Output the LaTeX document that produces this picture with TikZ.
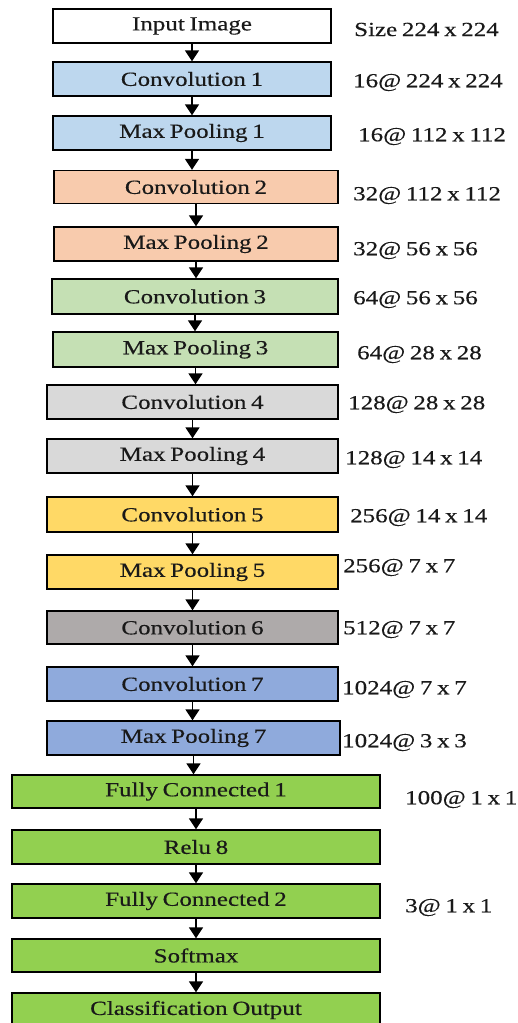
\documentclass[tikz,border=0pt]{standalone}
\usepackage{fontspec}
\setmainfont[FakeStretch=1.25,WordSpace=0.75,FakeBold=0.4]{Liberation Serif}
\usetikzlibrary{arrows.meta}

\definecolor{inputfill}{RGB}{255,255,255}
\definecolor{bluefill}{RGB}{189,215,238}
\definecolor{peachfill}{RGB}{248,203,173}
\definecolor{mintfill}{RGB}{197,224,180}
\definecolor{greyfill}{RGB}{217,217,217}
\definecolor{goldfill}{RGB}{255,217,102}
\definecolor{darkgreyfill}{RGB}{174,170,170}
\definecolor{steelfill}{RGB}{143,170,220}
\definecolor{fcfill}{RGB}{146,208,80}

\begin{document}
\begin{tikzpicture}[x=1pt,y=-1pt,
  layerbox/.style={draw=black, line width=1.4pt, rectangle, inner sep=0pt,
    font=\fontsize{20}{22}\selectfont, text=black!90},
  dimlabel/.style={anchor=west, inner sep=0pt, yshift=-2.5pt,
    font=\fontsize{20}{22}\selectfont, text=black!90},
  flow/.style={line width=1.6pt, -{Triangle[width=14pt,length=11pt]}}]
\useasboundingbox (0,0) rectangle (517,1023);

% layer boxes: centre, width, height, fill
\node[layerbox, fill=inputfill, minimum width=278pt, minimum height=34pt] (in)  at (192,26)    {Input Image};
\node[layerbox, fill=bluefill,  minimum width=278pt, minimum height=34pt] (c1)  at (192,79)    {Convolution 1};
\node[layerbox, fill=bluefill,  minimum width=278pt, minimum height=34pt] (p1)  at (192,133)   {Max Pooling 1};
\node[layerbox, fill=peachfill, minimum width=284pt, minimum height=33pt] (c2)  at (196,187)   {Convolution 2};
\node[layerbox, fill=peachfill, minimum width=284pt, minimum height=34pt] (p2)  at (196,244)   {Max Pooling 2};
\node[layerbox, fill=mintfill,  minimum width=286pt, minimum height=35pt] (c3)  at (195,296.5) {Convolution 3};
\node[layerbox, fill=mintfill,  minimum width=285pt, minimum height=35pt] (p3)  at (195.5,349.5) {Max Pooling 3};
\node[layerbox, fill=greyfill,  minimum width=291pt, minimum height=34pt] (c4)  at (192.5,402) {Convolution 4};
\node[layerbox, fill=greyfill,  minimum width=291pt, minimum height=34pt] (p4)  at (192.5,456) {Max Pooling 4};
\node[layerbox, fill=goldfill,  minimum width=291pt, minimum height=35pt] (c5)  at (192.5,514.5) {Convolution 5};
\node[layerbox, fill=goldfill,  minimum width=291pt, minimum height=34pt] (p5)  at (192.5,572) {Max Pooling 5};
\node[layerbox, fill=darkgreyfill, minimum width=291pt, minimum height=33pt] (c6) at (192.5,627.5) {Convolution 6};
\node[layerbox, fill=steelfill, minimum width=291pt, minimum height=34pt] (c7)  at (192.5,684) {Convolution 7};
\node[layerbox, fill=steelfill, minimum width=293pt, minimum height=34pt] (p7)  at (193.5,738) {Max Pooling 7};
\node[layerbox, fill=fcfill,    minimum width=368pt, minimum height=33pt] (fc1) at (196,791.5) {Fully Connected 1};
\node[layerbox, fill=fcfill,    minimum width=368pt, minimum height=34pt] (re)  at (196,847)   {Relu 8};
\node[layerbox, fill=fcfill,    minimum width=368pt, minimum height=34pt] (fc2) at (196,901)   {Fully Connected 2};
\node[layerbox, fill=fcfill,    minimum width=368pt, minimum height=33pt] (sm)  at (196,955.5) {Softmax};
\node[layerbox, fill=fcfill,    minimum width=368pt, minimum height=34pt] (out) at (196,1010)  {Classification Output};

% flow arrows between consecutive layers
\foreach \a/\b in {in/c1,c1/p1,p1/c2,c2/p2,p2/c3,c3/p3,p3/c4,c4/p4,p4/c5,c5/p5,p5/c6,c6/c7,c7/p7,p7/fc1,fc1/re,re/fc2,fc2/sm,sm/out}
  \draw[flow] (\a.south) -- (\a.south |- \b.north);

% output dimensions
\node[dimlabel] (d0)  at (354,27)  {Size 224 x 224};
\node[dimlabel] (d1)  at (353,80)  {16@ 224 x 224};
\node[dimlabel] (d2)  at (358,134) {16@ 112 x 112};
\node[dimlabel] (d3)  at (353,193) {32@ 112 x 112};
\node[dimlabel] (d4)  at (353,248) {32@ 56 x 56};
\node[dimlabel] (d5)  at (353,297) {64@ 56 x 56};
\node[dimlabel] (d6)  at (357,352) {64@ 28 x 28};
\node[dimlabel] (d7)  at (348,402) {128@ 28 x 28};
\node[dimlabel] (d8)  at (345,457) {128@ 14 x 14};
\node[dimlabel] (d9)  at (350,515) {256@ 14 x 14};
\node[dimlabel] (d10) at (343,565) {256@ 7 x 7};
\node[dimlabel] (d11) at (343,627) {512@ 7 x 7};
\node[dimlabel] (d12) at (342,687) {1024@ 7 x 7};
\node[dimlabel] (d13) at (342,740) {1024@ 3 x 3};
\node[dimlabel] (d14) at (405,797) {100@ 1 x 1};
\node[dimlabel] (d15) at (405,905) {3@ 1 x 1};
\end{tikzpicture}
\end{document}
